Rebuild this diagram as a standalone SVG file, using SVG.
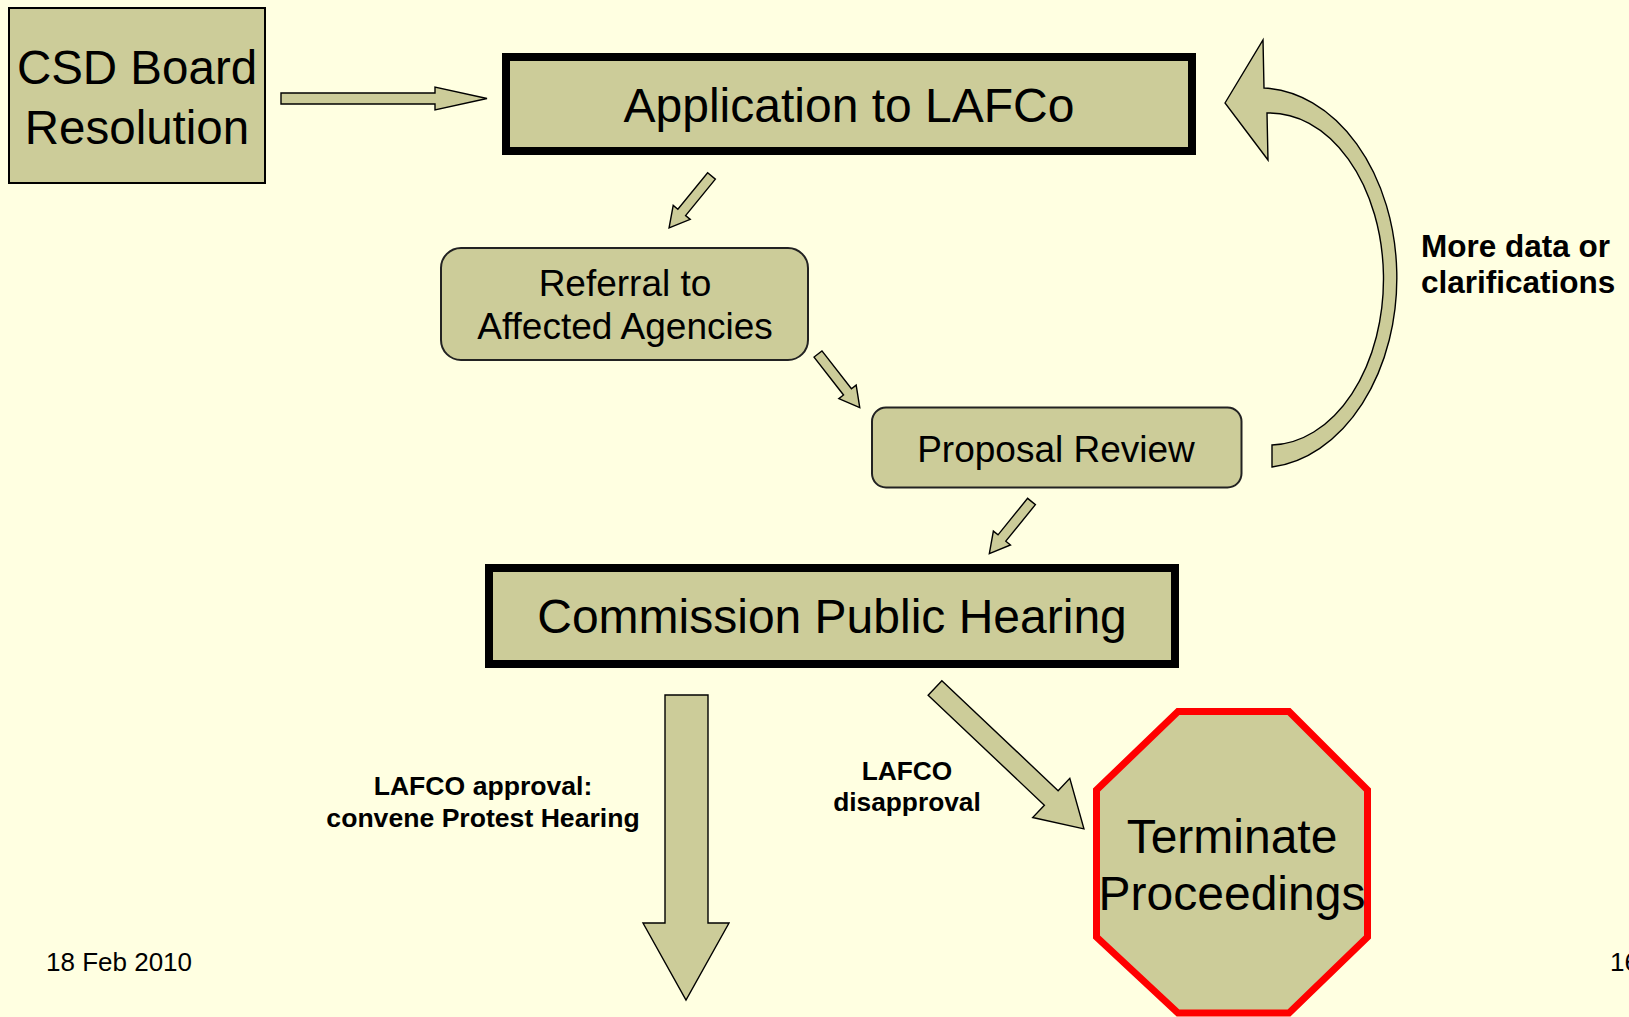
<svg xmlns="http://www.w3.org/2000/svg" width="1629" height="1017" viewBox="0 0 1629 1017">
<style>
.bg{fill:#FFFFE1}
.box{fill:#CCCC99;stroke:#000;stroke-width:2}
.thick{fill:#CCCC99;stroke:#000;stroke-width:8}
.round{fill:#CCCC99;stroke:#222;stroke-width:2}
.stop{fill:#CCCC99;stroke:#FF0000;stroke-width:7;stroke-linejoin:miter}
.arr{fill:#CCCC99;stroke:#000;stroke-width:1.4;stroke-linejoin:miter}
.t{font-family:"Liberation Sans",Arial,sans-serif;fill:#000;text-anchor:middle}
.b{font-family:"Liberation Sans",Arial,sans-serif;font-weight:bold;fill:#000}
</style>
<rect class="bg" x="0" y="0" width="1629" height="1017"/>

<g id="connectors">
  <polygon id="a-csd-app" class="arr" points="281,93 435,93 435,87 487,98.5 435,110 435,104 281,104"/>
  <polygon id="a-app-ref" class="arr" transform="translate(711.5,176) rotate(129.3)" points="0,-5 47,-5 47,-11 67,0 47,11 47,5 0,5"/>
  <polygon id="a-ref-prop" class="arr" transform="translate(818,354) rotate(52.1)" points="0,-5 48,-5 48,-11 68,0 48,11 48,5 0,5"/>
  <polygon id="a-prop-comm" class="arr" transform="translate(1031.5,501.5) rotate(129)" points="0,-5 47,-5 47,-11 67,0 47,11 47,5 0,5"/>
  <path id="a-loop" class="arr" d="M1225,103 L1263,40 L1264,88 A138,190 0 0 1 1272,467 L1272,445 A114,166 0 0 0 1267,113 L1268,160 Z"/>
  <polygon id="a-comm-term" class="arr" transform="translate(935,688) rotate(43.4)" points="0,-10 160,-10 160,-27 205,0 160,27 160,10 0,10"/>
  <polygon id="a-approval" class="arr" points="665,695 708,695 708,923 729,923 686,1000 643,923 665,923"/>
  <text class="b" x="483" y="795" font-size="26.6" text-anchor="middle">LAFCO approval:</text>
  <text class="b" x="483" y="827" font-size="26.6" text-anchor="middle">convene Protest Hearing</text>
  <text class="b" x="907" y="780" font-size="26.3" text-anchor="middle">LAFCO</text>
  <text class="b" x="907" y="811" font-size="26.3" text-anchor="middle">disapproval</text>
  <text class="b" x="1421" y="257" font-size="31.5">More data or</text>
  <text class="b" x="1421" y="293" font-size="31.5">clarifications</text>
</g>

<g id="csd">
  <rect class="box" x="9" y="8" width="256" height="175"/>
  <text class="t" x="137" y="84" font-size="47.5">CSD Board</text>
  <text class="t" x="137" y="144" font-size="47.5">Resolution</text>
</g>

<g id="application">
  <rect class="thick" x="506" y="57" width="686" height="94"/>
  <text class="t" x="849" y="122" font-size="48">Application to LAFCo</text>
</g>

<g id="referral">
  <rect class="round" x="441" y="248" width="367" height="112" rx="20" ry="20"/>
  <text class="t" x="625" y="296" font-size="37">Referral to</text>
  <text class="t" x="625" y="339" font-size="37">Affected Agencies</text>
</g>

<g id="proposal">
  <rect class="round" x="872" y="407.5" width="369.5" height="80" rx="14" ry="14"/>
  <text class="t" x="1056" y="462" font-size="37">Proposal Review</text>
</g>

<g id="commission">
  <rect class="thick" x="489" y="568" width="686" height="96"/>
  <text class="t" x="832" y="633" font-size="48">Commission Public Hearing</text>
</g>

<g id="terminate">
  <polygon class="stop" points="1178,711.5 1289,711.5 1367.5,790 1367.5,937 1289,1013 1178,1013 1096.5,937 1096.5,790"/>
  <text class="t" x="1232" y="853" font-size="48">Terminate</text>
  <text class="t" x="1232" y="910" font-size="48">Proceedings</text>
</g>

<g id="footer">
  <text font-family="Liberation Sans, Arial, sans-serif" font-size="26" x="46" y="971">18 Feb 2010</text>
  <text font-family="Liberation Sans, Arial, sans-serif" font-size="26" x="1610" y="971">16</text>
</g>
</svg>
